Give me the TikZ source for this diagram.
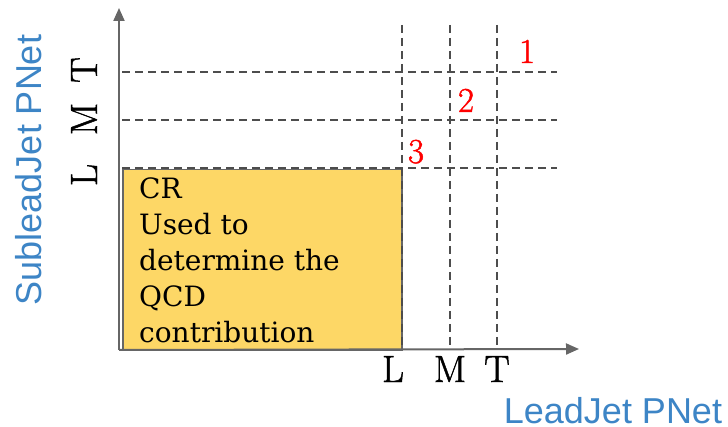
\documentclass[tikz,border=0pt]{standalone}
\usepackage{fontspec}
\newfontfamily\boxfont{DejaVu Serif}
\newfontfamily\labfont{Liberation Sans}
\newfontfamily\tickfont[FakeBold=1.3]{Latin Modern Roman}
\usetikzlibrary{arrows.meta}
\definecolor{axisgray}{HTML}{666666}
\definecolor{dashgray}{HTML}{4D4D4D}
\definecolor{crfill}{HTML}{FDD766}
\definecolor{labblue}{HTML}{3D85C6}
\begin{document}
\begin{tikzpicture}[x=1pt,y=-1pt,
  axis/.style={draw=axisgray,line width=2pt,-{Triangle[length=13pt,width=11pt]}},
  grid/.style={draw=dashgray,line width=1.6pt,dash pattern=on 8pt off 5pt},
  tick/.style={font=\tickfont\fontsize{38}{38}\selectfont,inner sep=0pt,anchor=base},
  num/.style={font=\tickfont\fontsize{35}{35}\selectfont,text=red,inner sep=0pt,anchor=base},
  axlab/.style={font=\labfont\fontsize{36}{36}\selectfont,text=labblue,inner sep=0pt,anchor=base}]
\useasboundingbox (0,0) rectangle (728,427);
\fill[white] (0,0) rectangle (728,427);
% grid coordinates
\coordinate (h1a) at (122,72);  \coordinate (h1b) at (557,72);
\coordinate (h2a) at (122,120); \coordinate (h2b) at (557,120);
\coordinate (h3a) at (122,168); \coordinate (h3b) at (557,168);
\coordinate (v1a) at (402,25);  \coordinate (v1b) at (402,349);
\coordinate (v2a) at (450,25);  \coordinate (v2b) at (450,349);
\coordinate (v3a) at (497,25);  \coordinate (v3b) at (497,349);
% CR box
\node (cr) [draw=axisgray,line width=1.5pt,fill=crfill,inner sep=0pt,
  minimum width=279pt,minimum height=181pt,anchor=north west] at (122,169) {};
\draw[grid] (h1a) -- (h1b);
\draw[grid] (h2a) -- (h2b);
\draw[grid] (h3a) -- (h3b);
\draw[grid] (v1a) -- (v1b);
\draw[grid] (v2a) -- (v2b);
\draw[grid] (v3a) -- (v3b);
\node (crtext) [inner sep=0pt,anchor=north west,align=left,
  font=\boxfont\fontsize{28}{36}\selectfont] at (139,177.5)
  {CR\\Used to\\determine the\\QCD\\contribution};
% axes
\coordinate (O) at (119,350);
\coordinate (ytop) at (119,8);
\coordinate (xend) at (579,349);
\draw[axis] (O) -- (ytop);
\draw[axis] (O) -- (xend);
% tick labels
\node (xl) [tick] at (393,382) {L};
\node (xm) [tick] at (450,382) {M};
\node (xt) [tick] at (497,382) {T};
\node (yl) [tick,rotate=90] at (97,175) {L};
\node (ym) [tick,rotate=90] at (97,119) {M};
\node (yt) [tick,rotate=90] at (97,70) {T};
% region numbers
\node (n1) [num] at (527,63) {1};
\node (n2) [num] at (466,112) {2};
\node (n3) [num] at (416,163) {3};
% axis titles
\node (xtitle) [axlab] at (613,423) {LeadJet PNet};
\node (ytitle) [axlab,rotate=90] at (41,170) {SubleadJet PNet};
\end{tikzpicture}
\end{document}
